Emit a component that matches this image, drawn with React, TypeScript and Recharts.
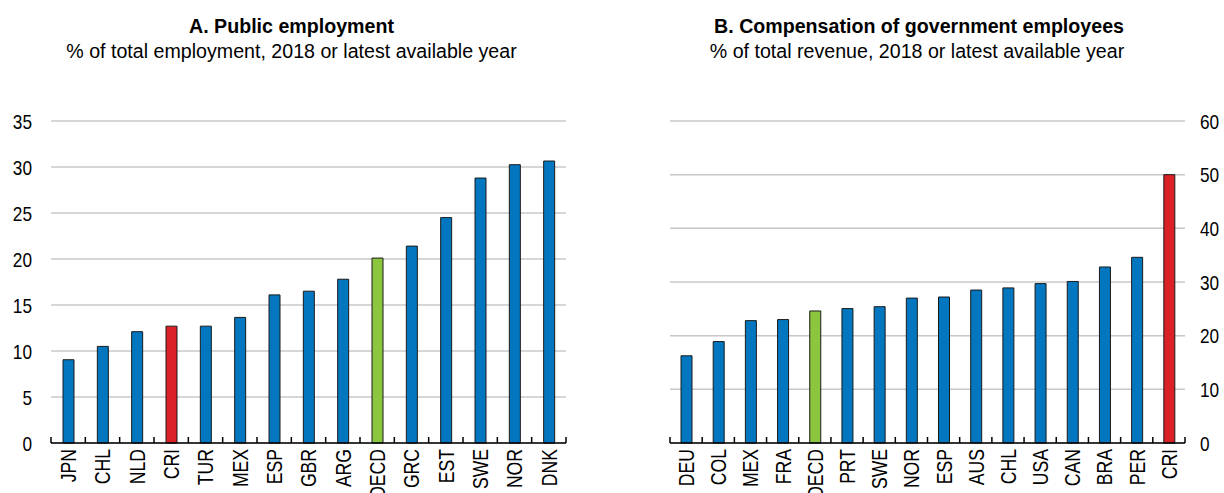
import { BarChart, Bar, XAxis, YAxis, CartesianGrid, Cell } from "recharts";

const employmentCountries = ["JPN", "CHL", "NLD", "CRI", "TUR", "MEX", "ESP", "GBR", "ARG", "OECD", "GRC", "EST", "SWE", "NOR", "DNK"];
const employmentValues = [9.05, 10.5, 12.1, 12.7, 12.7, 13.65, 16.1, 16.5, 17.8, 20.1, 21.4, 24.5, 28.8, 30.25, 30.65];
const employmentTicks = [0, 5, 10, 15, 20, 25, 30, 35];

const compensationCountries = ["DEU", "COL", "MEX", "FRA", "OECD", "PRT", "SWE", "NOR", "ESP", "AUS", "CHL", "USA", "CAN", "BRA", "PER", "CRI"];
const compensationValues = [16.25, 18.9, 22.8, 23.0, 24.6, 25.05, 25.4, 27.0, 27.2, 28.5, 28.9, 29.7, 30.1, 32.8, 34.6, 50.0];
const compensationTicks = [0, 10, 20, 30, 40, 50, 60];

const FONT = "'Liberation Sans', Arial, sans-serif";
const NARROW = 0.82; // Liberation Sans squeezed to look like Arial Narrow
const BLUE = "#0277bf";
const RED = "#da2128";
const GREEN = "#8cc63f";

const barColor = (name: string) => (name === "CRI" ? RED : name === "OECD" ? GREEN : BLUE);

function makeTick(band: number, count: number) {
  return function CategoryTick(props: any) {
    const { x, y, payload, index } = props;
    return (
      <g>
        <line x1={x - band / 2} y1={y} x2={x - band / 2} y2={y - 6} stroke="#000" strokeWidth={1.5} />
        {index === count - 1 && (
          <line x1={x + band / 2} y1={y} x2={x + band / 2} y2={y - 6} stroke="#000" strokeWidth={1.5} />
        )}
        <text
          transform={`translate(${x},${y + 6}) rotate(-90) scale(0.8,1)`}
          textAnchor="end"
          dy="0.36em"
          fontSize={22}
          fontFamily={FONT}
          fill="#000"
        >
          {payload.value}
        </text>
      </g>
    );
  };
}

function ValueTick(props: any) {
  const { x, y, payload, textAnchor } = props;
  return (
    <text
      transform={`translate(${x},${y}) scale(${NARROW},1)`}
      textAnchor={textAnchor}
      dy="0.36em"
      fontSize={21}
      fontFamily={FONT}
      fill="#000"
    >
      {payload.value}
    </text>
  );
}

function Titles() {
  const t = (cx: number, y: number, s: string, bold: boolean) => (
    <text
      transform={`translate(${cx},${y}) scale(0.935,1)`}
      textAnchor="middle"
      fontSize={21}
      fontWeight={bold ? "bold" : "normal"}
      fontFamily={FONT}
      fill="#000"
    >
      {s}
    </text>
  );
  return (
    <svg width={1224} height={70} style={{ position: "absolute", left: 0, top: 0 }}>
      {t(291.5, 33.3, "A. Public employment", true)}
      {t(291.5, 58.3, "% of total employment, 2018 or latest available year", false)}
      {t(919, 33.3, "B. Compensation of government employees", true)}
      {t(917, 58.3, "% of total revenue, 2018 or latest available year", false)}
    </svg>
  );
}

export default function App() {
  const empData = employmentCountries.map((c, i) => ({ name: c, value: employmentValues[i] }));
  const compData = compensationCountries.map((c, i) => ({ name: c, value: compensationValues[i] }));

  const leftPlotWidth = 612 - 51 - 46;
  const rightPlotWidth = 612 - 58 - 39;

  return (
    <div style={{ position: "absolute", left: 0, top: 0, width: 1224, height: 493, background: "#fff", overflow: "hidden" }}>
      <Titles />

      <div style={{ position: "absolute", left: 0, top: 0 }}>
        <BarChart width={612} height={493} data={empData} margin={{ top: 121, right: 46, bottom: 0, left: 0 }}>
          <CartesianGrid vertical={false} stroke="#c8c8c8" strokeWidth={1.5} />
          <XAxis
            dataKey="name"
            interval={0}
            height={50}
            tickSize={0}
            tickMargin={0}
            axisLine={{ stroke: "#000", strokeWidth: 1.5 }}
            tickLine={false}
            tick={makeTick(leftPlotWidth / employmentCountries.length, employmentCountries.length)}
          />
          <YAxis
            width={51}
            domain={[0, 35]}
            ticks={employmentTicks}
            axisLine={false}
            tickLine={false}
            tickSize={0}
            tickMargin={19}
            tick={<ValueTick />}
          />
          <Bar dataKey="value" barSize={11} stroke="#1a1a1a" strokeWidth={1} isAnimationActive={false}>
            {empData.map((d) => (
              <Cell key={d.name} fill={barColor(d.name)} />
            ))}
          </Bar>
        </BarChart>
      </div>

      <div style={{ position: "absolute", left: 612, top: 0 }}>
        <BarChart width={612} height={493} data={compData} margin={{ top: 121, right: 0, bottom: 0, left: 58 }}>
          <CartesianGrid vertical={false} stroke="#c8c8c8" strokeWidth={1.5} />
          <XAxis
            dataKey="name"
            interval={0}
            height={50}
            tickSize={0}
            tickMargin={0}
            axisLine={{ stroke: "#000", strokeWidth: 1.5 }}
            tickLine={false}
            tick={makeTick(rightPlotWidth / compensationCountries.length, compensationCountries.length)}
          />
          <YAxis
            orientation="right"
            width={39}
            domain={[0, 60]}
            ticks={compensationTicks}
            axisLine={false}
            tickLine={false}
            tickSize={0}
            tickMargin={15}
            tick={<ValueTick />}
          />
          <Bar dataKey="value" barSize={11} stroke="#1a1a1a" strokeWidth={1} isAnimationActive={false}>
            {compData.map((d) => (
              <Cell key={d.name} fill={barColor(d.name)} />
            ))}
          </Bar>
        </BarChart>
      </div>
    </div>
  );
}
